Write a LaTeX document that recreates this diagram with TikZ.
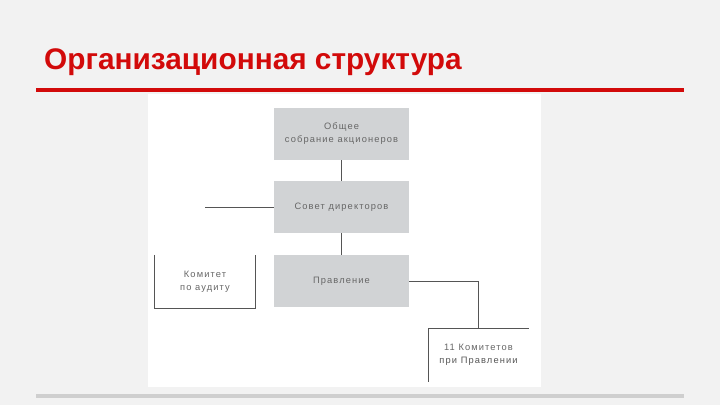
\documentclass[tikz,border=0pt]{standalone}
\usepackage{fontspec}
\setmainfont{Liberation Sans}
\usepackage{xcolor}
\definecolor{titelrot}{HTML}{D20A0A}
\definecolor{hinter}{HTML}{F2F2F2}
\definecolor{boxgrau}{HTML}{D1D3D5}
\definecolor{textgrau}{HTML}{666666}
\definecolor{liniengrau}{HTML}{555555}
\definecolor{bandgrau}{HTML}{CFCFCF}
\tikzset{
	kasten/.style={fill=boxgrau, minimum width=135pt, minimum height=52pt, inner sep=0pt, align=center, text=textgrau, font=\fontsize{9.3}{13}\selectfont\addfontfeature{LetterSpace=12}},
	offen/.style={minimum width=100pt, minimum height=53pt, inner sep=0pt, align=center, text=textgrau, font=\fontsize{9.3}{13}\selectfont\addfontfeature{LetterSpace=12}},
	linie/.style={liniengrau, line width=0.9pt}
}
\begin{document}
\begin{tikzpicture}[x=1pt, y=-1pt]
	% hintergrund und weisses feld
	\fill[hinter] (0,0) rectangle (720,405);
	\useasboundingbox (0,0) rectangle (720,405);
	\fill[white] (148,94) rectangle (541,387);
	% titel und rote linie
	\node[anchor=base west, inner sep=0pt, text=titelrot, font=\fontsize{29.8}{34}\selectfont\bfseries] (titel) at (44,69) {Организационная структура};
	\draw[titelrot, line width=4pt] (36,89.5) -- (684,89.5);
	% graue linie unten
	\draw[bandgrau, line width=4pt] (36,395.5) -- (684,395.5);
	% mittlere spalte
	\node[kasten] (versammlung) at (341.5,134) {Общее\\собрание акционеров};
	\node[kasten] (rat) at (341.5,207) {Совет директоров};
	\node[kasten] (vorstand) at (341.5,281) {Правление};
	\draw[linie] (versammlung) -- (rat);
	\draw[linie] (rat) -- (vorstand);
	% linke seite
	\coordinate (links) at (205,207);
	\draw[linie] (links) -- (rat.west);
	\node[offen] (audit) at (205,281.5) {Комитет\\по аудиту};
	\draw[linie] (audit.north west) -- (audit.south west) -- (audit.south east) -- (audit.north east);
	% rechte seite
	\node[offen] (komitees) at (478.5,355) {11 Комитетов\\\textcolor{liniengrau}{при Правлении}};
	\draw[linie] (komitees.south west) -- (komitees.north west) -- (komitees.north east);
	\draw[linie] (vorstand.east) -| (komitees.north);
\end{tikzpicture}
\end{document}
